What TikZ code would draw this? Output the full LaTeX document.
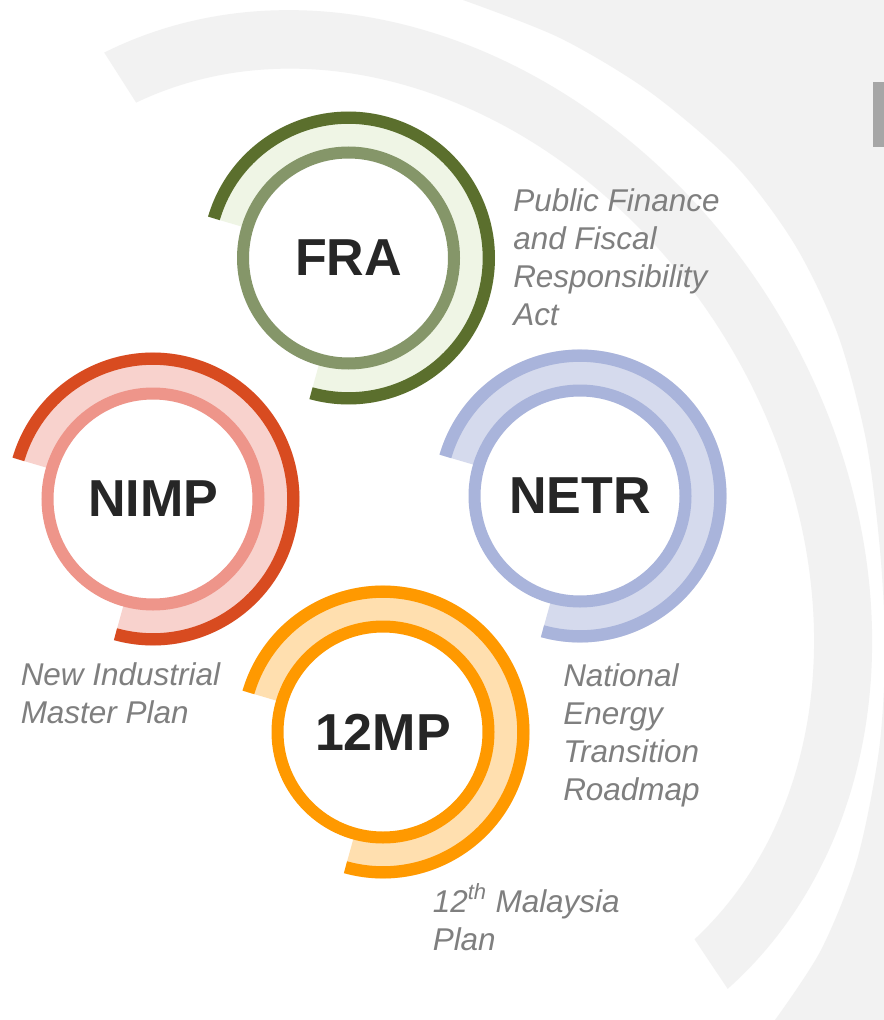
\documentclass[tikz,border=0pt]{standalone}
\usepackage{fontspec}
\setmainfont{Liberation Sans}
\usetikzlibrary{calc}
\definecolor{bggray}{HTML}{F2F2F2}
\definecolor{bargray}{HTML}{A6A6A6}
\definecolor{titlecol}{HTML}{262626}
\definecolor{labelcol}{HTML}{7F7F7F}
\definecolor{fraDark}{HTML}{5B6F2D}
\definecolor{fraLight}{HTML}{EFF5E5}
\definecolor{fraRing}{HTML}{859669}
\definecolor{nimpDark}{HTML}{D84B20}
\definecolor{nimpLight}{HTML}{F8D2CD}
\definecolor{nimpRing}{HTML}{EE958A}
\definecolor{netrDark}{HTML}{A9B4DB}
\definecolor{netrLight}{HTML}{D5DAED}
\definecolor{netrRing}{HTML}{A9B4DB}
\definecolor{mpDark}{HTML}{FF9900}
\definecolor{mpLight}{HTML}{FFDFAF}
\definecolor{mpRing}{HTML}{FF9900}
\tikzset{
  ringnode/.style={circle, minimum size=158.25pt, inner sep=0pt, line width=9pt,
    fill=white, text=titlecol, font=\fontsize{39}{47}\selectfont\bfseries},
  desclabel/.style={anchor=base west, inner sep=0pt, text=labelcol,
    font=\fontsize{23.6}{28.5}\selectfont\itshape}
}
\newcommand{\blockarc}[3]{%
  \fill[#3] ([shift={(196.4:146.5)}]#1) arc[start angle=196.4, end angle=465.5, radius=146.5]
    -- ([shift={(465.5:111)}]#1) arc[start angle=465.5, end angle=196.4, radius=111] -- cycle;
  \draw[#2, line width=9.2pt] ([shift={(196.4:140.3)}]#1) arc[start angle=196.4, end angle=465.5, radius=140.3];
}
\begin{document}
\begin{tikzpicture}[x=0.75pt, y=-0.75pt]
\useasboundingbox (0,0) rectangle (884,1020);
\fill[white] (0,0) rectangle (884,1020);
% outer gray region
\fill[bggray] (884,0) -- plot[smooth] coordinates {(463,0) (560,38) (650,92) (735,165) (795,245) (838,335) (866,440) (880,550) (885,650) (879,750) (857,860) (821,950) (775,1020)} -- (884,1020) -- cycle;
% inner gray band (elliptical block arc, major axis along the cut line)
\begin{scope}[shift={(373.8,549.3)}, x={(0.40425pt,-0.6315pt)}, y={(0.6315pt,0.40425pt)}]
  \fill[bggray] plot[domain=7.5:175, samples=150, variable=\p] ({566*cos(\p)},{468*sin(\p)})
    -- plot[domain=174.3:8.4, samples=150, variable=\p] ({507*cos(\p)},{410*sin(\p)}) -- cycle;
\end{scope}
% bar
\fill[bargray] (873,82) rectangle (884,147);
% centres
\coordinate (cFRA) at (348.5,258);
\coordinate (cNIMP) at (153,499);
\coordinate (cNETR) at (580,496);
\coordinate (cMP) at (383,732);
\blockarc{cFRA}{fraDark}{fraLight}
\blockarc{cNIMP}{nimpDark}{nimpLight}
\blockarc{cNETR}{netrDark}{netrLight}
\blockarc{cMP}{mpDark}{mpLight}
\node[ringnode, draw=fraRing] (fra) at (cFRA) {FRA};
\node[ringnode, draw=nimpRing] (nimp) at (cNIMP) {NIMP};
\node[ringnode, draw=netrRing] (netr) at (cNETR) {NETR};
\node[ringnode, draw=mpRing] (mp) at (cMP) {12MP};
% labels
\node[desclabel] (fraL) at (513,211) {\vtop{\hbox{Public Finance}\hbox{and Fiscal}\hbox{Responsibility}\hbox{Act}}};
\node[desclabel] (nimpL) at (20.5,685) {\vtop{\hbox{New Industrial}\hbox{Master Plan}}};
\node[desclabel] (netrL) at (563,686) {\vtop{\hbox{National}\hbox{Energy}\hbox{Transition}\hbox{Roadmap}}};
\node[desclabel] (mpL) at (432.5,912) {\vtop{\hbox{12\textsuperscript{th} Malaysia}\hbox{Plan}}};
\end{tikzpicture}
\end{document}
